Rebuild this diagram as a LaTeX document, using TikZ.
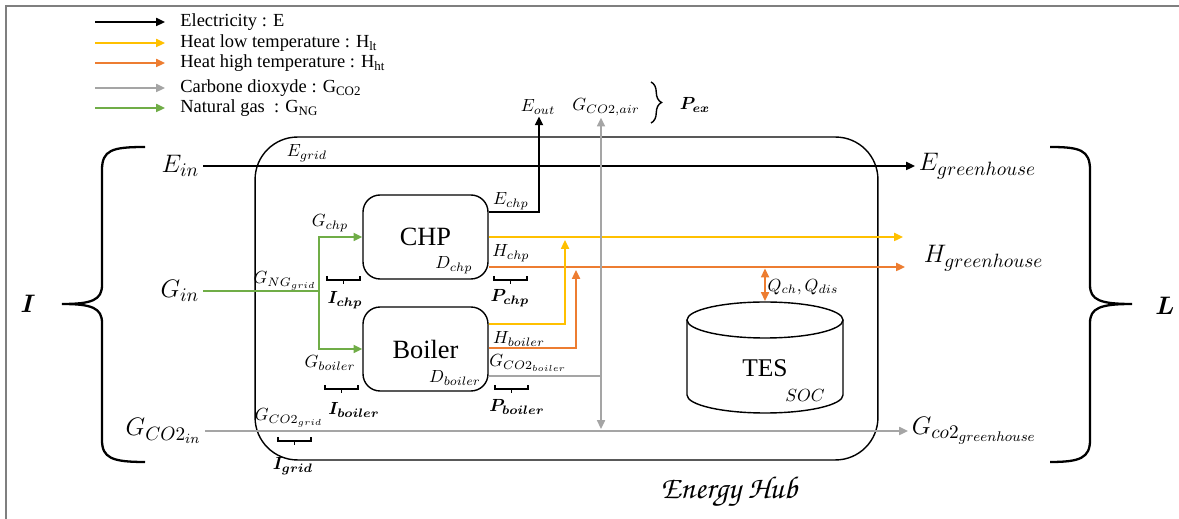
\documentclass[tikz,border=0pt]{standalone}
\usepackage{amsmath,amssymb}
\usepackage{bm}
\usepackage{fontspec}
\setmainfont{Liberation Serif}
\usepackage{tikz}
\usetikzlibrary{arrows.meta,decorations.pathreplacing}

\DeclareMathSizes{10}{10}{7.5}{5.5}
\DeclareMathSizes{14}{14}{11}{8}

\definecolor{heatlow}{HTML}{FFC000}
\definecolor{heathigh}{HTML}{ED7D31}
\definecolor{cotwo}{HTML}{A5A5A5}
\definecolor{natgas}{HTML}{70AD47}
\definecolor{framegray}{HTML}{7F7F7F}

% square under-bracket with a centre tick: left x, right x, top y
\newcommand{\hubbrace}[3]{%
  \draw[line width=0.8pt] (#1,#3) -- (#1,#3+4) -- (#2,#3+4) -- (#2,#3);
  \draw[line width=0.8pt] ({(#1+#2)/2},#3+4) -- ({(#1+#2)/2},#3+8);}

\begin{document}
\begin{tikzpicture}[x=0.02cm,y=-0.02cm,>={Triangle[length=5pt,width=4.5pt]},
  flow/.style={line width=1.1pt},
  unit/.style={draw, line width=0.8pt, rounded corners=0.34cm, minimum width=2.5cm, minimum height=1.68cm, font=\fontsize{15}{17}\selectfont},
  lbl/.style={font=\fontsize{10}{12}\selectfont, inner sep=1pt},
  big/.style={font=\fontsize{14}{16}\selectfont, inner sep=2pt},
  leg/.style={font=\fontsize{10.5}{12}\selectfont, anchor=west, inner sep=0pt},
  bigbrace/.style={line width=1.3pt}]
  \useasboundingbox (0,0) rectangle (1179,519);

  % Frame
  \draw[framegray, line width=1.1pt] (6,519) -- (6,6) -- (1179,6);

  % Legend
  \coordinate (ls1) at (95,22);  \coordinate (le1) at (165,22);
  \coordinate (ls2) at (95,43);  \coordinate (le2) at (165,43);
  \coordinate (ls3) at (95,63);  \coordinate (le3) at (165,63);
  \coordinate (ls4) at (95,88);  \coordinate (le4) at (165,88);
  \coordinate (ls5) at (95,108); \coordinate (le5) at (165,108);
  \draw[flow,->] (ls1) -- (le1);
  \draw[flow,heatlow,->] (ls2) -- (le2);
  \draw[flow,heathigh,->] (ls3) -- (le3);
  \draw[flow,cotwo,->] (ls4) -- (le4);
  \draw[flow,natgas,->] (ls5) -- (le5);
  \node[leg] (leg1) at (180,22) {Electricity : E};
  \node[leg] (leg2) at (180,43) {Heat low temperature : H\textsubscript{lt}};
  \node[leg] (leg3) at (180,63) {Heat high temperature : H\textsubscript{ht}};
  \node[leg] (leg4) at (180,88) {Carbone dioxyde : G\textsubscript{CO2}};
  \node[leg] (leg5) at (180,108) {Natural gas~ : G\textsubscript{NG}};

  % Energy hub frame
  \node[draw, line width=0.8pt, rounded corners=0.85cm, minimum width=12.46cm, minimum height=6.46cm] (hub) at (566.5,298.5) {};
  \node[font=\fontencoding{OT1}\fontfamily{pzc}\fontseries{mb}\fontshape{it}\fontsize{18}{21}\selectfont] (hubname) at (729,492) {Energy Hub};

  % Conversion units
  \node[unit] (chp) at (425.5,237) {CHP};
  \node[unit] (boiler) at (425.5,349) {Boiler};
  \node[lbl] (dchp) at (454,265) {$D_{chp}$};
  \node[lbl] (dboiler) at (455,378) {$D_{boiler}$};

  % Storage
  \draw[line width=0.8pt] (687,320) -- (687,395) arc[start angle=180, end angle=0, x radius=78, y radius=18] -- (843,320);
  \draw[line width=0.8pt] (765,320) ellipse[x radius=78, y radius=18];
  \coordinate (tes) at (765,301);
  \node[font=\fontsize{14.5}{17}\selectfont] (testext) at (765,368) {TES};
  \node[lbl] (soc) at (805,395) {$SOC$};

  % Inputs and loads
  \node[big, anchor=east] (ein) at (203,166) {$E_{in}$};
  \node[big, anchor=east] (gin) at (203,291) {$G_{in}$};
  \node[big, anchor=east] (gcoin) at (205,431) {$G_{CO2_{in}}$};
  \node[big, anchor=west] (egh) at (915,166) {$E_{greenhouse}$};
  \node[big, anchor=west] (hgh) at (920,258) {$H_{greenhouse}$};
  \node[big, anchor=west] (gcogh) at (908,431) {$G_{co2_{greenhouse}}$};
  \node[font=\fontsize{15}{17}\selectfont] (itot) at (28,304) {$\bm{I}$};
  \node[font=\fontsize{15}{17}\selectfont] (ltot) at (1165,306) {$\bm{L}$};

  % Exports
  \node[lbl] (eout) at (538,107) {$E_{out}$};
  \node[lbl] (gair) at (606,107) {$G_{CO2,air}$};
  \node[lbl] (pex) at (695,105) {$\bm{P_{ex}}$};

  % Junctions
  \coordinate (gsplit) at (319,291);
  \coordinate (ebend) at (539,212);
  \coordinate (hlowend) at (903,237);
  \coordinate (hhighend) at (905,267);
  \coordinate (ylowup) at (565,324);
  \coordinate (ohighup) at (576,348);
  \coordinate (gjoin) at (601,376);
  \coordinate (gdown) at (601,429);

  % Electricity
  \draw[flow,->] (ein.east) -- (egh.west);
  \draw[flow,->] (chp.east |- ebend) -- (ebend) -- (ebend |- eout.south);

  % Natural gas
  \draw[flow,natgas] (gin.east) -- (gsplit);
  \draw[flow,natgas,->] (gsplit) |- (chp.west);
  \draw[flow,natgas,->] (gsplit) |- (boiler.west);

  % Heat
  \draw[flow,heatlow,->] (chp.east) -- (hlowend);
  \draw[flow,heathigh,->] (chp.east |- hhighend) -- (hhighend);
  \draw[flow,heatlow,->] (boiler.east |- ylowup) -- (ylowup) -- ([yshift=-0.06cm]ylowup |- hlowend);
  \draw[flow,heathigh,->] (boiler.east |- ohighup) -- (ohighup) -- ([yshift=-0.06cm]ohighup |- hhighend);
  \draw[flow,heathigh,<->] ([yshift=-0.03cm]tes |- hhighend) -- (tes);

  % Carbon dioxide
  \draw[flow,cotwo,->] (gcoin.east) -- (gcogh.west);
  \draw[flow,cotwo] (boiler.east |- gjoin) -- (gjoin);
  \draw[flow,cotwo,->] (gjoin) -- (gjoin |- gair.south);
  \draw[flow,cotwo,->] (gjoin) -- (gdown);

  % Flow labels
  \node[lbl] (egrid) at (307,153) {$E_{grid}$};
  \node[lbl] (gchp) at (330,223) {$G_{chp}$};
  \node[lbl] (gnggrid) at (285,281) {$G_{NG_{grid}}$};
  \node[lbl] (gboiler) at (330,363) {$G_{boiler}$};
  \node[lbl] (echp) at (511,201) {$E_{chp}$};
  \node[lbl] (hchp) at (511,253) {$H_{chp}$};
  \node[lbl] (hboiler) at (519,339) {$H_{boiler}$};
  \node[lbl] (gcoboiler) at (528,363) {$G_{CO2_{boiler}}$};
  \node[lbl] (gcogrid) at (289,418) {$G_{CO2_{grid}}$};
  \node[lbl] (qchdis) at (803,287) {$Q_{ch},Q_{dis}$};

  % Small braces
  \hubbrace{327}{360}{276}
  \hubbrace{494}{527}{276}
  \hubbrace{325}{358}{385}
  \hubbrace{495}{528}{385}
  \hubbrace{278}{311}{437}
  \draw[decorate, decoration={brace, amplitude=6pt}, line width=0.8pt] (651,82) -- (651,123);
  \node[lbl] (ichp) at (345,300) {$\bm{I_{chp}}$};
  \node[lbl] (pchp) at (510,298) {$\bm{P_{chp}}$};
  \node[lbl] (iboiler) at (354,410) {$\bm{I_{boiler}}$};
  \node[lbl] (pboiler) at (517,407) {$\bm{P_{boiler}}$};
  \node[lbl] (igrid) at (293,466) {$\bm{I_{grid}}$};

  % Big braces
  \draw[bigbrace] (145,147) .. controls (112,147) and (102,150) .. (102,170) -- (102,285)
    .. controls (102,300) and (92,304) .. (62,304) .. controls (92,304) and (102,308) .. (102,323)
    -- (102,440) .. controls (102,458) and (112,462) .. (145,462);
  \draw[bigbrace] (1050,147) .. controls (1080,147) and (1090,150) .. (1090,170) -- (1090,285)
    .. controls (1090,300) and (1100,304) .. (1132,304) .. controls (1100,304) and (1090,308) .. (1090,323)
    -- (1090,440) .. controls (1090,458) and (1080,462) .. (1050,462);
\end{tikzpicture}
\end{document}
